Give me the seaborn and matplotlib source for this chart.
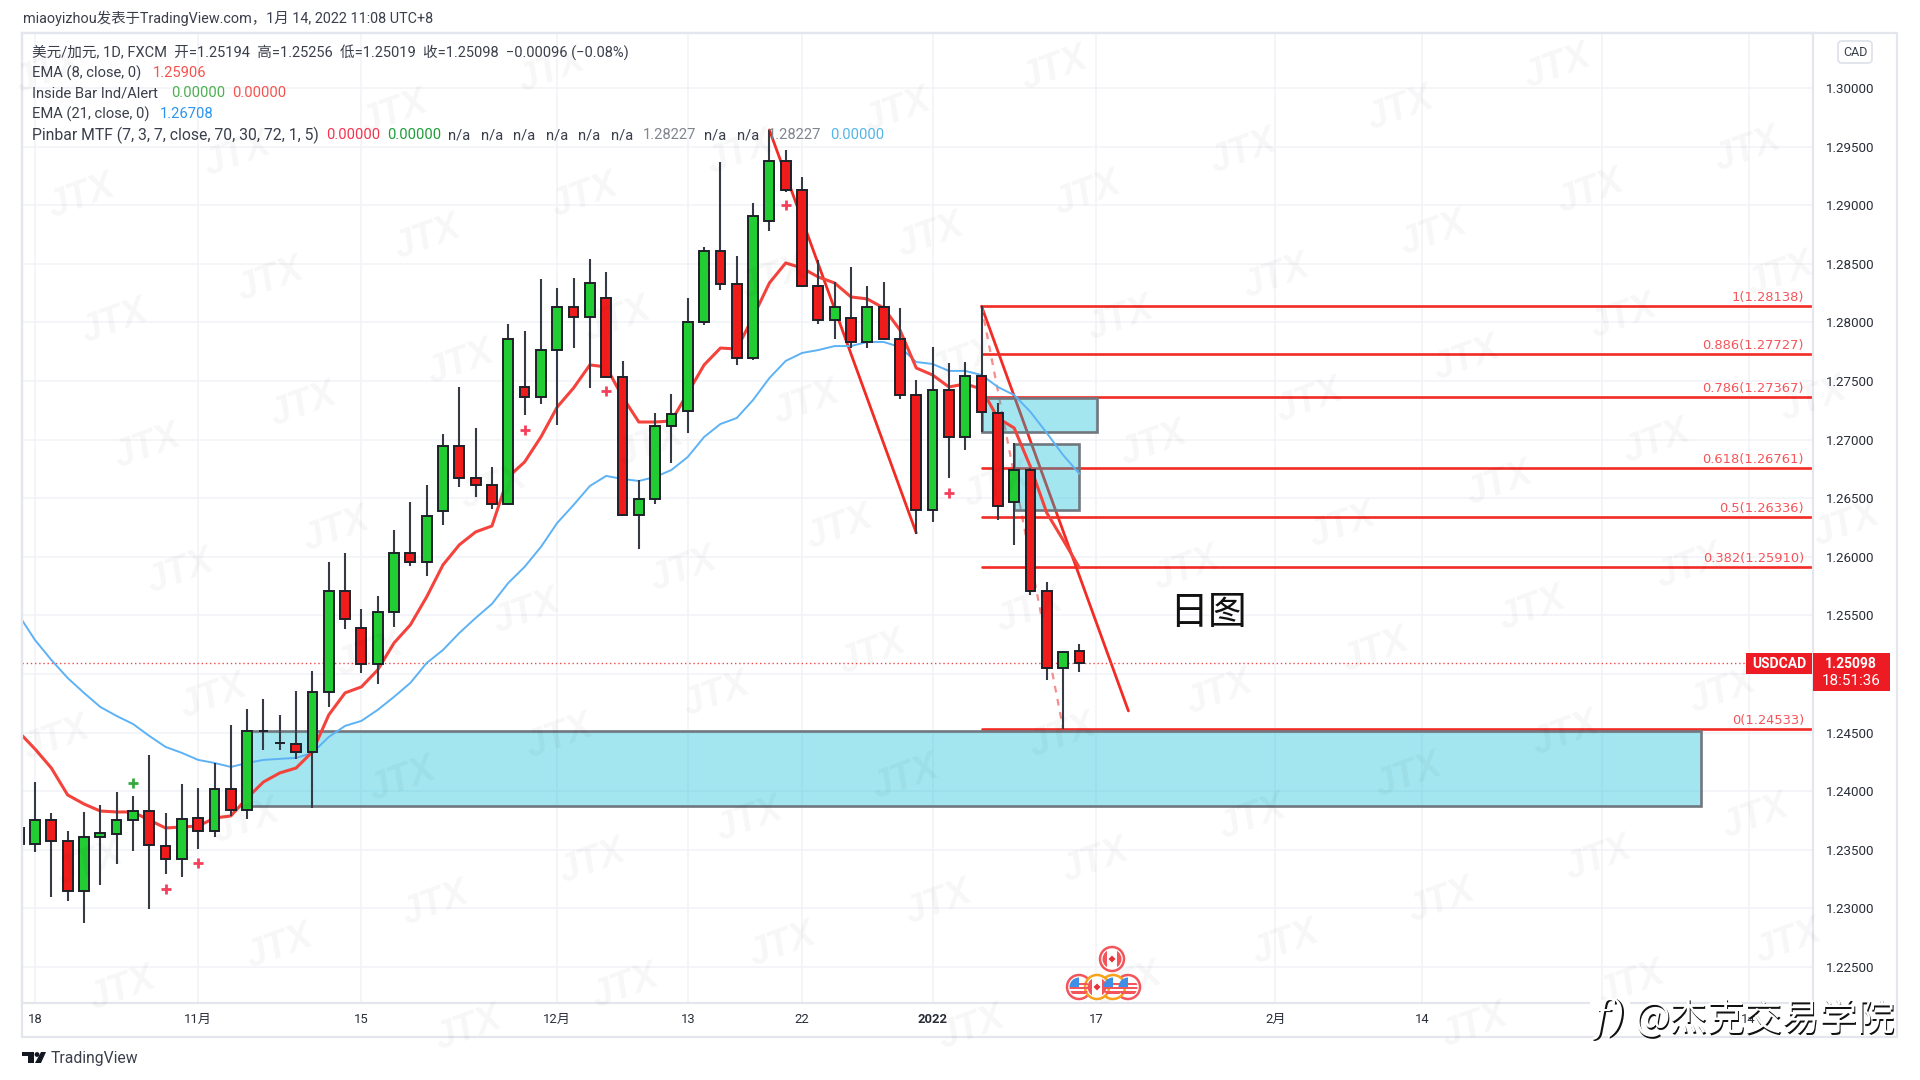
import numpy as np
import pandas as pd
import matplotlib
matplotlib.use('Agg')
import matplotlib.pyplot as plt
import matplotlib.patches as mpatches
import seaborn as sns

# Velas: el indice 0 es el 18 de octubre, -1 queda cortada por el borde
idx = list(range(-1, 65))
opens = [1.23686, 1.23550, 1.23754, 1.23575, 1.23148, 1.23609, 1.23635, 1.23754, 1.23831, 1.23533,
         1.23422, 1.23771, 1.23661, 1.24019, 1.23840, 1.24515, 1.24413, 1.24404, 1.24336, 1.24847,
         1.25709, 1.25393, 1.25086, 1.25530, 1.26033, 1.25956, 1.26391, 1.26946, 1.26673, 1.26613,
         1.26451, 1.27449, 1.27364, 1.27764, 1.28131, 1.28046, 1.28208, 1.27534, 1.26357, 1.26494,
         1.27116, 1.27244, 1.28003, 1.28609, 1.28327, 1.27696, 1.28865, 1.29377, 1.29130, 1.28310,
         1.28020, 1.28037, 1.27833, 1.28131, 1.27858, 1.27380, 1.26400, 1.27423, 1.27022, 1.27542,
         1.27227, 1.26468, 1.26741, 1.25709, 1.25052, 1.25194]
highs = [1.23750, 1.24079, 1.23814, 1.23661, 1.23823, 1.23882, 1.23993, 1.23959, 1.24309, 1.23814,
         1.24062, 1.24027, 1.24241, 1.24566, 1.24702, 1.24788, 1.24651, 1.24856, 1.25027, 1.25956,
         1.26033, 1.25555, 1.25666, 1.26229, 1.26468, 1.26613, 1.27048, 1.27449, 1.27099, 1.26767,
         1.27986, 1.27927, 1.28370, 1.28293, 1.28379, 1.28541, 1.28430, 1.27671, 1.26656, 1.27227,
         1.27389, 1.28208, 1.28643, 1.29367, 1.28566, 1.29019, 1.29642, 1.29471, 1.29241, 1.28532,
         1.28345, 1.28473, 1.28310, 1.28345, 1.28123, 1.27505, 1.27790, 1.27653, 1.27662, 1.28138,
         1.27312, 1.26971, 1.26758, 1.25786, 1.25197, 1.25256]
lows = [1.23500, 1.23481, 1.23097, 1.23063, 1.22877, 1.23200, 1.23379, 1.23490, 1.22995, 1.23294,
        1.23268, 1.23507, 1.23609, 1.23789, 1.23763, 1.24353, 1.24353, 1.24276, 1.23857, 1.24719,
        1.25385, 1.25009, 1.24915, 1.25402, 1.25922, 1.25837, 1.26272, 1.26596, 1.26511, 1.26408,
        1.26442, 1.27210, 1.27304, 1.27125, 1.27781, 1.27440, 1.27525, 1.26349, 1.26067, 1.26451,
        1.26801, 1.27056, 1.27978, 1.28276, 1.27637, 1.27679, 1.28780, 1.29113, 1.28302, 1.27986,
        1.27858, 1.27781, 1.27781, 1.27850, 1.27346, 1.26195, 1.26297, 1.26673, 1.26911, 1.27065,
        1.26314, 1.26101, 1.25675, 1.24950, 1.24533, 1.25019]
closes = [1.23550, 1.23754, 1.23575, 1.23148, 1.23609, 1.23643, 1.23754, 1.23831, 1.23541, 1.23422,
          1.23763, 1.23661, 1.24019, 1.23840, 1.24515, 1.24515, 1.24413, 1.24336, 1.24847, 1.25709,
          1.25470, 1.25086, 1.25530, 1.26033, 1.25956, 1.26349, 1.26946, 1.26673, 1.26613, 1.26451,
          1.27858, 1.27364, 1.27764, 1.28131, 1.28046, 1.28336, 1.27534, 1.26357, 1.26494, 1.27116,
          1.27219, 1.28003, 1.28609, 1.28327, 1.27696, 1.28908, 1.29377, 1.29130, 1.28310, 1.28020,
          1.28131, 1.27833, 1.28131, 1.27858, 1.27380, 1.26400, 1.27423, 1.27022, 1.27542, 1.27236,
          1.26434, 1.26741, 1.25709, 1.25052, 1.25188, 1.25098]

ema8 = [1.24506, 1.24360, 1.24198, 1.23968, 1.23891, 1.23831, 1.23823, 1.23823, 1.23754, 1.23686,
        1.23695, 1.23703, 1.23771, 1.23789, 1.23942, 1.24079, 1.24156, 1.24198, 1.24336, 1.24651,
        1.24839, 1.24890, 1.25035, 1.25265, 1.25419, 1.25658, 1.25931, 1.26102, 1.26212, 1.26263,
        1.26681, 1.26809, 1.27022, 1.27278, 1.27440, 1.27637, 1.27620, 1.27364, 1.27150, 1.27150,
        1.27159, 1.27398, 1.27637, 1.27781, 1.27773, 1.28046, 1.28336, 1.28507, 1.28464, 1.28387,
        1.28336, 1.28217, 1.28200, 1.28123, 1.27935, 1.27611, 1.27551, 1.27449, 1.27475, 1.27432,
        1.27184, 1.27099, 1.26767, 1.26374, 1.26144, 1.25906]
ema21 = [1.25504, 1.25290, 1.25120, 1.24966, 1.24839, 1.24719, 1.24642, 1.24574, 1.24472, 1.24378,
         1.24327, 1.24267, 1.24241, 1.24207, 1.24241, 1.24267, 1.24276, 1.24284, 1.24327, 1.24463,
         1.24557, 1.24600, 1.24694, 1.24805, 1.24924, 1.25094, 1.25205, 1.25350, 1.25478, 1.25598,
         1.25777, 1.25914, 1.26084, 1.26289, 1.26442, 1.26604, 1.26690, 1.26664, 1.26647, 1.26681,
         1.26741, 1.26852, 1.27022, 1.27133, 1.27184, 1.27338, 1.27525, 1.27671, 1.27739, 1.27764,
         1.27798, 1.27798, 1.27833, 1.27833, 1.27790, 1.27662, 1.27645, 1.27586, 1.27586, 1.27551,
         1.27449, 1.27380, 1.27236, 1.27056, 1.26868, 1.26708]

# Cruces del indicador
plus_green_x = [6]
plus_green_y = [1.24070]
plus_red_x = [8, 10, 30, 35, 46, 56]
plus_red_y = [1.23166, 1.23388, 1.27082, 1.27415, 1.29002, 1.26545]

# Fibonacci
fib_levels = [1.28138, 1.27727, 1.27367, 1.26761, 1.26336, 1.25910, 1.24533]
fib_labels = ['1(1.28138)', '0.886(1.27727)', '0.786(1.27367)', '0.618(1.26761)',
              '0.5(1.26336)', '0.382(1.25910)', '0(1.24533)']
fib_start = 58

# Zonas (x0, x1, y0, y1)
zonas = [(13, 102.1, 1.23874, 1.24515),
         (58, 65.07, 1.27065, 1.27355),
         (60, 64.0, 1.26400, 1.26966)]
# Lineas de tendencia
linea_a = ([45, 54], [1.29642, 1.26204])
linea_b = ([58, 67], [1.28138, 1.24685])
linea_fib = ([58, 63], [1.28138, 1.24533])

precio_actual = 1.25098
ytick_vals = [1.225, 1.23, 1.235, 1.24, 1.245, 1.25, 1.255, 1.26, 1.265, 1.27, 1.275, 1.28, 1.285, 1.29, 1.295, 1.30]
xtick_pos = [0, 10, 20, 32, 40, 47, 55, 65, 76, 85, 96, 105]
xtick_labels = ['18', '11月', '15', '12月', '13', '22', '2022', '17', '2月', '14', '', '14']

W, H = 1920, 1080
sns.set_theme(style='white')
plt.rcParams['font.family'] = ['Roboto', 'Noto Sans CJK SC', 'DejaVu Sans']
fig = plt.figure(figsize=(W / 100, H / 100), dpi=100, facecolor='white')

# Panel principal
ax = fig.add_axes([22 / W, 1 - 1003 / H, (1813 - 22) / W, (1003 - 33) / H])
ax.set_xlim(-0.797, 108.95)
ax.set_ylim(1.22193, 1.30469)
borde = '#e4e6ee'
for s in ax.spines.values():
    s.set_color(borde)
    s.set_linewidth(1.6)
ax.grid(True, color='#f2f3f7', linewidth=1.2)
ax.set_axisbelow(True)
ax.yaxis.tick_right()
ax.set_yticks(ytick_vals)
# 1.25000 queda tapado por la etiqueta del precio actual
ax.set_yticklabels(['' if v == 1.25 else f'{v:.5f}' for v in ytick_vals], fontsize=9.6, color='#2a2e39')
ax.set_xticks(xtick_pos)
ax.set_xticklabels(xtick_labels, fontsize=9.4, color='#2a2e39')
ax.get_xticklabels()[6].set_fontweight('bold')
ax.tick_params(axis='y', length=0, pad=9)
ax.tick_params(axis='x', length=0, pad=7)

# Lineas bajo las zonas
rojo = '#f22b24'
ax.plot(*linea_a, color=rojo, lw=2, zorder=2, solid_capstyle='round')
ax.plot(*linea_b, color=rojo, lw=2, zorder=2, solid_capstyle='round')
ax.plot(*linea_fib, color='#f88d8d', lw=1.6, ls=(0, (3, 3)), zorder=2)
for y in fib_levels:
    ax.plot([fib_start, ax.get_xlim()[1]], [y, y], color=rojo, lw=1.9, zorder=2.2)
ax.axhline(precio_actual, color='#f0484a', lw=1, ls=(0, (1, 2)), zorder=2.2)

for x0, x1, y0, y1 in zonas:
    ax.add_patch(mpatches.Rectangle((x0, y0), x1 - x0, y1 - y0, facecolor=(0, 0.737, 0.831, 0.36),
                                    edgecolor='#71777f', linewidth=1.9, zorder=3))

df_ema = pd.DataFrame({'idx': idx, 'ema8': ema8, 'ema21': ema21})
sns.lineplot(data=df_ema, x='idx', y='ema21', ax=ax, color='#5db2f5', linewidth=1.4, zorder=4)
sns.lineplot(data=df_ema, x='idx', y='ema8', ax=ax, color='#f4433c', linewidth=2.2, zorder=4)
ax.set_xlabel('')
ax.set_ylabel('')

# Velas
df = pd.DataFrame({'idx': idx, 'o': opens, 'h': highs, 'l': lows, 'c': closes})
df['sube'] = df['c'] >= df['o']
df.loc[df['o'] == df['c'], 'sube'] = False
ax.vlines(df['idx'], df['l'], df['h'], color='#363a45', linewidth=1.5, zorder=5)
ax.bar(df['idx'], (df['c'] - df['o']).abs(), bottom=df[['o', 'c']].min(axis=1), width=0.6,
       color=np.where(df['sube'], '#22cc33', '#f01c1c'), edgecolor='#1d2129', linewidth=1.4, zorder=6)

sns.scatterplot(x=plus_green_x, y=plus_green_y, ax=ax, marker='+', s=60, color='#35a93f', linewidth=2, zorder=7)
sns.scatterplot(x=plus_red_x, y=plus_red_y, ax=ax, marker='+', s=60, color='#f4405a', linewidth=2, zorder=7)

# Capa en pixeles para textos y adornos
ov = fig.add_axes([0, 0, 1, 1], facecolor='none', zorder=10)
ov.set_xlim(0, W)
ov.set_ylim(H, 0)
ov.axis('off')

# marca de agua JTX
a = np.array([156.7, -42.2])
b = np.array([33.0, 124.9])
o = np.array([114.0, 322.0])
for i in range(-8, 16):
    for j in range(-4, 10):
        px, py = o + i * a + j * b
        if 45 < px < W - 45 and 30 < py < H - 30:
            ov.text(px, py, 'JTX', fontsize=27, family='Liberation Sans', style='italic', fontweight='bold',
                    color='#000000', alpha=0.035, rotation=20, ha='center', va='center')

ov.add_patch(mpatches.Rectangle((22, 33), 1897 - 22, 1037 - 33, fill=False, edgecolor=borde, lw=1.6))

cjk = ['Roboto', 'Noto Sans CJK SC', 'DejaVu Sans']
gris = '#3a3f4b'
ov.text(23, 18, 'miaoyizhou发表于TradingView.com，1月 14, 2022 11:08 UTC+8', fontsize=10.4, color=gris,
        va='center', family=cjk)
ov.text(32, 52, '美元/加元, 1D, FXCM  开=1.25194  高=1.25256  低=1.25019  收=1.25098  −0.00096 (−0.08%)',
        fontsize=10.5, color=gris, va='center', family=cjk)

leyenda = [
    (32, 73, 'EMA (8, close, 0)', gris), (153, 73, '1.25906', '#f4534f'),
    (32, 93, 'Inside Bar Ind/Alert', gris), (171, 93, '0.00000', '#4caf50'), (232, 93, '0.00000', '#f4534f'),
    (32, 114, 'EMA (21, close, 0)', gris), (160, 114, '1.26708', '#2a94f0'),
    (326, 135, '0.00000', '#f4334f'), (387, 135, '0.00000', '#1f9d3a'),
    (448, 135, 'n/a', gris), (481, 135, 'n/a', gris), (513, 135, 'n/a', gris),
    (546, 135, 'n/a', gris), (578, 135, 'n/a', gris), (611, 135, 'n/a', gris),
    (643, 135, '1.28227', '#80848e'), (704, 135, 'n/a', gris), (737, 135, 'n/a', gris),
    (768, 135, '1.28227', '#80848e'), (830, 135, '0.00000', '#53b6e6'),
]
for lx, ly, txt, col in leyenda:
    ov.text(lx, ly, txt, fontsize=10.6, color=col, va='center', family=cjk)
ov.text(32, 135, 'Pinbar MTF (7, 3, 7, close, 70, 30, 72, 1, 5)', fontsize=11.3, color=gris, va='center', family=cjk)

# Etiquetas de fibonacci
for y, lab in zip(fib_levels, fib_labels):
    py = 88 + (1.30 - y) * 11720
    ov.text(1804, py - 2, lab, fontsize=9.4, color='#f4555a', ha='right', va='bottom', family='DejaVu Sans')

ov.text(1208, 613, '日图', fontsize=28, color='#111111', ha='center', va='center', family='Noto Sans CJK SC')

# Etiquetas de precio
ov.add_patch(mpatches.Rectangle((1746, 653), 66, 21, facecolor='#ed1c24', edgecolor='none'))
ov.add_patch(mpatches.Rectangle((1813, 653), 77, 38, facecolor='#ed1c24', edgecolor='none'))
ov.text(1779, 663.5, 'USDCAD', fontsize=10, color='white', ha='center', va='center', fontweight='bold')
ov.text(1851, 663.5, '1.25098', fontsize=10, color='white', ha='center', va='center', fontweight='bold')
ov.text(1851, 681, '18:51:36', fontsize=11, color='white', ha='center', va='center')

ov.add_patch(mpatches.FancyBboxPatch((1840, 43), 30, 18, boxstyle='round,pad=2,rounding_size=4',
                                     facecolor='white', edgecolor='#e0e3eb', lw=1.3))
ov.text(1855, 52, 'CAD', fontsize=9, color=gris, ha='center', va='center')

# Logo de TradingView
ov.add_patch(mpatches.Polygon([(22, 1052), (34, 1052), (34, 1063), (28, 1063), (28, 1056), (22, 1056)],
                              facecolor='#131722', edgecolor='none'))
ov.add_patch(mpatches.Circle((37, 1054.5), 2.4, facecolor='#131722', edgecolor='none'))
ov.add_patch(mpatches.Polygon([(41, 1052), (46, 1052), (41, 1063), (35, 1063)], facecolor='#131722', edgecolor='none'))
ov.text(51, 1058, 'TradingView', fontsize=11.3, color='#3a3f4b', va='center')


# Banderas del calendario
def bandera(cx, cy, borde_col, tipo):
    ov.add_patch(mpatches.Circle((cx, cy), 12, facecolor='white', edgecolor=borde_col, lw=1.8, zorder=20))
    clip = mpatches.Circle((cx, cy), 9.5, transform=ov.transData)
    if tipo == 'us':
        for k in range(-2, 4, 2):
            p = ov.add_patch(mpatches.Rectangle((cx - 10, cy + k * 2.2), 20, 2.2, facecolor='#f2555a', edgecolor='none', zorder=21))
            p.set_clip_path(clip)
        p = ov.add_patch(mpatches.Rectangle((cx - 10, cy - 10), 10, 10, facecolor='#3f8fe8', edgecolor='none', zorder=22))
        p.set_clip_path(clip)
    else:
        for x0 in (cx - 10, cx + 5):
            p = ov.add_patch(mpatches.Rectangle((x0, cy - 10), 5, 20, facecolor='#f2555a', edgecolor='none', zorder=21))
            p.set_clip_path(clip)
        ov.add_patch(mpatches.RegularPolygon((cx, cy), 4, radius=3.5, facecolor='#e8323a', edgecolor='none', zorder=22))


for cx, cy, col, tipo in [(1128, 987, '#f2555a', 'us'), (1113, 987, '#f7a21b', 'us'), (1079, 987, '#f2555a', 'us'),
                          (1097, 987, '#f7a21b', 'ca'), (1112, 959, '#f2555a', 'ca')]:
    bandera(cx, cy, col, tipo)

# Marca de agua de abajo a la derecha
ov.add_patch(mpatches.Rectangle((1590, 1000), 40, 36, facecolor='white', edgecolor='none', zorder=29))
for tx, txt, fs, kw in [(1594, 'f)', 30, dict(style='italic', family='DejaVu Serif')),
                        (1635, '@杰克交易学院', 27, dict(family='Noto Sans CJK SC'))]:
    ov.text(tx + 1.2, 1019 + 1.2, txt, fontsize=fs, color='#111111', va='center', zorder=30, **kw)
    ov.text(tx, 1019, txt, fontsize=fs, color='white', va='center', zorder=31, **kw)

fig.savefig('out.png', dpi=100)
